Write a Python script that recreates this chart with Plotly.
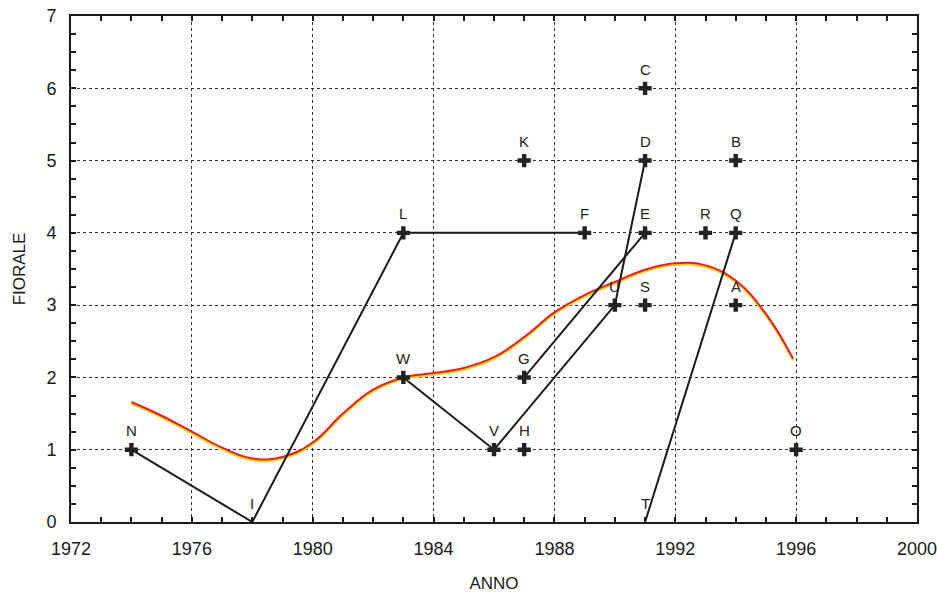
import plotly.graph_objects as go

# Labelled observations (year, score)
point_names = ["N", "I", "L", "F", "W", "V", "H", "G", "K", "U", "D", "E", "C", "S", "T", "R", "Q", "B", "A", "O"]
point_years = [1974, 1978, 1983, 1989, 1983, 1986, 1987, 1987, 1987, 1990, 1991, 1991, 1991, 1991, 1991, 1993, 1994, 1994, 1994, 1996]
point_values = [1, 0, 4, 4, 2, 1, 1, 2, 5, 3, 5, 4, 6, 3, 0, 4, 4, 5, 3, 1]

# Connected paths between observations
paths = [
    ["N", "I", "L", "F"],
    ["W", "V", "U", "D"],
    ["G", "E"],
    ["T", "Q"],
]

# Smoothed trend curve
trend_years = [1974, 1975, 1976, 1977, 1978, 1979, 1980, 1981, 1982, 1983, 1984, 1985,
               1986, 1987, 1988, 1989, 1990, 1991, 1992, 1993, 1994, 1995, 1995.9]
trend_values = [1.66, 1.47, 1.25, 1.03, 0.88, 0.90, 1.10, 1.50, 1.83, 2.00, 2.06, 2.13,
                2.28, 2.56, 2.90, 3.14, 3.32, 3.49, 3.58, 3.55, 3.34, 2.88, 2.26]

x_ticks = [1972, 1976, 1980, 1984, 1988, 1992, 1996, 2000]
y_ticks = [0, 1, 2, 3, 4, 5, 6, 7]

FONT = "Liberation Sans, Arial, sans-serif"
INK = "#1a1a1a"

lookup = {n: (x, y) for n, x, y in zip(point_names, point_years, point_values)}

fig = go.Figure()

# trend curve: yellow under-stroke with red line on top
fig.add_trace(go.Scatter(
    x=trend_years, y=[v - 0.025 for v in trend_values], mode="lines",
    line=dict(color="#f2d21a", width=2.2, shape="spline", smoothing=1.2),
    hoverinfo="skip", showlegend=False))
fig.add_trace(go.Scatter(
    x=trend_years, y=trend_values, mode="lines",
    line=dict(color="#e41e2b", width=2, shape="spline", smoothing=1.2),
    hoverinfo="skip", showlegend=False))

for path in paths:
    fig.add_trace(go.Scatter(
        x=[lookup[n][0] for n in path], y=[lookup[n][1] for n in path],
        mode="lines", line=dict(color=INK, width=2),
        hoverinfo="skip", showlegend=False))

# markers (points sitting on the x axis are drawn without a cross)
mx = [x for x, y in zip(point_years, point_values) if y > 0]
my = [y for x, y in zip(point_years, point_values) if y > 0]
fig.add_trace(go.Scatter(
    x=mx, y=my, mode="markers",
    marker=dict(symbol="cross", size=11, color="#222222"),
    showlegend=False))

# labels above each point
for n, x, y in zip(point_names, point_years, point_values):
    fig.add_annotation(
        x=x, y=y, text=n, showarrow=False, yshift=19, yanchor="middle",
        font=dict(family=FONT, size=15, color="#222222"))

axis_common = dict(
    showline=True, linecolor=INK, linewidth=2, mirror="allticks",
    ticks="inside", ticklen=5, tickwidth=1.5, tickcolor=INK,
    showgrid=True, gridcolor="#333333", gridwidth=1, griddash="dot",
    zeroline=False, ticklabelstandoff=9, automargin=False,
    ticklabeloverflow="allow",
    tickfont=dict(family=FONT, size=18, color=INK),
    title_font=dict(family=FONT, size=17, color=INK),
)

fig.update_xaxes(
    range=[1972, 2000], tickvals=x_ticks, ticktext=[str(t) for t in x_ticks],
    minor=dict(dtick=1, tick0=1972, ticks="inside", ticklen=5, tickcolor=INK, showgrid=False),
    title_text="ANNO", title_standoff=20, **axis_common)
fig.update_yaxes(
    range=[0, 7], tickvals=y_ticks, ticktext=[str(t) for t in y_ticks],
    minor=dict(dtick=0.25, tick0=0, ticks="inside", ticklen=5, tickcolor=INK, showgrid=False),
    title_text="FIORALE", title_standoff=16, **axis_common)

fig.update_layout(
    width=937, height=597,
    margin=dict(l=71, r=20, t=16, b=75),
    paper_bgcolor="white", plot_bgcolor="white",
    showlegend=False,
)

fig.write_html("out.html")
